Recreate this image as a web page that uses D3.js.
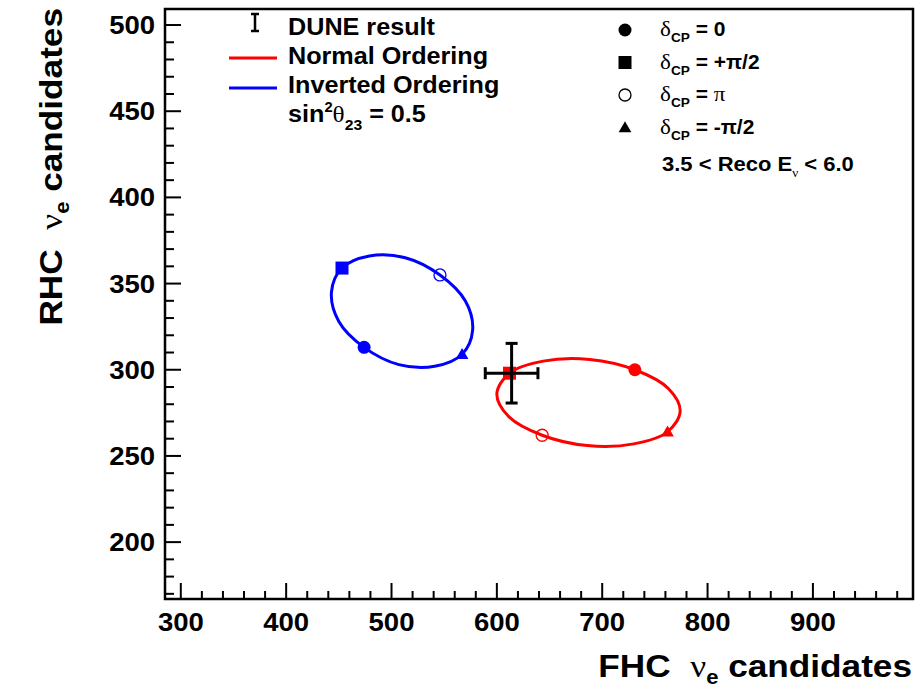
<!DOCTYPE html>
<html>
<head>
<meta charset="utf-8">
<script src="https://cdn.jsdelivr.net/npm/d3@7"></script>
<style>
  body { margin: 0; background: #fff; }
  text { font-family: 'Liberation Sans', Arial, Helvetica, sans-serif; font-weight: bold; }
  .greek { font-family: 'Liberation Serif', 'DejaVu Serif', serif; font-weight: normal; }
</style>
</head>
<body>
<svg id="chart"></svg>
<script>
const width = 922;
const height = 690;

// DUNE result, with sqrt(N) errors
const duneResult = { fhc: 614, rhc: 298, errFhc: 25, errRhc: 17.3 };

// points read around each ellipse, deltaCP stepping by 30 degrees from 0
const normalCurve = [
  [731, 300], [688, 306], [644, 305], [612, 298], [600, 286], [611, 273],
  [643, 262], [686, 256], [730, 257], [762, 264], [774, 276], [763, 289]
];
const invertedCurve = [
  [474, 313], [450, 328], [443, 345], [453, 359], [479, 366], [513, 365],
  [546, 355], [570, 340], [577, 323], [567, 309], [541, 302], [507, 303]
];

// the four marked deltaCP values on each curve
const deltaNames = ["0", "+π/2", "π", "-π/2"];
const deltaShapes = ["circle", "square", "open", "triangle"];
const normalMarks = [[731, 300], [612, 298], [643, 262], [762, 264]];
const invertedMarks = [[474, 313], [453, 359], [546, 355], [567, 309]];

const xTicks = [300, 400, 500, 600, 700, 800, 900];
const yTicks = [200, 250, 300, 350, 400, 450, 500];

const svg = d3.select('#chart')
  .attr('width', width)
  .attr('height', height);

const frame = { left: 165, top: 9, right: 913, bottom: 599 };

const x = d3.scaleLinear().domain([285, 995]).range([frame.left, frame.right]);
const y = d3.scaleLinear().domain([167, 509.3]).range([frame.bottom, frame.top]);

// minor ticks
const xMinor = d3.range(300, 995, 20);
const yMinor = d3.range(170, 510, 10);

svg.append('g')
  .selectAll('line')
  .data(xMinor)
  .enter().append('line')
    .attr('x1', d => x(d)).attr('x2', d => x(d))
    .attr('y1', frame.bottom)
    .attr('y2', d => frame.bottom - (d % 100 === 0 ? 16 : 8))
    .attr('stroke', '#000').attr('stroke-width', 2);

svg.append('g')
  .selectAll('line')
  .data(yMinor)
  .enter().append('line')
    .attr('y1', d => y(d)).attr('y2', d => y(d))
    .attr('x1', frame.left)
    .attr('x2', d => frame.left + (d % 50 === 0 ? 16 : 9))
    .attr('stroke', '#000').attr('stroke-width', 2);

// tick labels, slightly stretched like the ROOT rendering
svg.append('g')
  .selectAll('text')
  .data(xTicks)
  .enter().append('text')
    .attr('transform', d => `translate(${x(d)},631) scale(1.1,1)`)
    .attr('text-anchor', 'middle')
    .attr('font-size', 25)
    .text(d => d);

svg.append('g')
  .selectAll('text')
  .data(yTicks)
  .enter().append('text')
    .attr('transform', d => `translate(155,${y(d)}) scale(1.1,1)`)
    .attr('dy', '0.36em')
    .attr('text-anchor', 'end')
    .attr('font-size', 25)
    .text(d => d);

svg.append('rect')
  .attr('x', frame.left).attr('y', frame.top)
  .attr('width', frame.right - frame.left)
  .attr('height', frame.bottom - frame.top)
  .attr('fill', 'none')
  .attr('stroke', '#000')
  .attr('stroke-width', 2.5);

// axis titles
function axisTitle(g, main) {
  const t = g.append('text')
    .attr('text-anchor', 'end')
    .attr('font-size', 32);
  t.append('tspan').text(main + '\u00a0\u00a0');
  t.append('tspan').attr('class', 'greek').text('ν');
  t.append('tspan').attr('font-size', 20).attr('dy', 7).text('e');
  t.append('tspan').attr('dy', -7).text(' candidates');
}
axisTitle(svg.append('g').attr('transform', 'translate(912,677) scale(1.1,1)'), 'FHC');
axisTitle(svg.append('g').attr('transform', 'translate(62,8) rotate(-90) scale(1.1,1)'), 'RHC');

// ellipses
const line = d3.line()
  .x(d => x(d[0]))
  .y(d => y(d[1]))
  .curve(d3.curveCatmullRomClosed);

svg.append('path')
  .datum(invertedCurve)
  .attr('d', line)
  .attr('fill', 'none')
  .attr('stroke', '#0000ff')
  .attr('stroke-width', 3);

svg.append('path')
  .datum(normalCurve)
  .attr('d', line)
  .attr('fill', 'none')
  .attr('stroke', '#ff0000')
  .attr('stroke-width', 3);

function drawMarker(g, shape, cx, cy, color) {
  if (shape === 'circle') {
    g.append('circle').attr('cx', cx).attr('cy', cy).attr('r', 6.5).attr('fill', color);
  } else if (shape === 'square') {
    g.append('rect').attr('x', cx - 6.5).attr('y', cy - 6.5)
      .attr('width', 13).attr('height', 13).attr('fill', color);
  } else if (shape === 'open') {
    g.append('circle').attr('cx', cx).attr('cy', cy).attr('r', 6)
      .attr('fill', 'none').attr('stroke', color).attr('stroke-width', 1.3);
  } else {
    g.append('path')
      .attr('d', d3.symbol(d3.symbolTriangle, 70)())
      .attr('transform', `translate(${cx},${cy + 1})`)
      .attr('fill', color);
  }
}

const marks = svg.append('g');
invertedMarks.forEach((p, i) => drawMarker(marks, deltaShapes[i], x(p[0]), y(p[1]), '#0000ff'));
normalMarks.forEach((p, i) => drawMarker(marks, deltaShapes[i], x(p[0]), y(p[1]), '#ff0000'));

// DUNE result cross
const cross = svg.append('g').attr('stroke', '#000').attr('stroke-width', 3);
const cx = x(duneResult.fhc), cy = y(duneResult.rhc);
const xl = x(duneResult.fhc - duneResult.errFhc), xr = x(duneResult.fhc + duneResult.errFhc);
const yt = y(duneResult.rhc + duneResult.errRhc), yb = y(duneResult.rhc - duneResult.errRhc);
cross.append('line').attr('x1', xl).attr('x2', xr).attr('y1', cy).attr('y2', cy);
cross.append('line').attr('x1', cx).attr('x2', cx).attr('y1', yt).attr('y2', yb);
cross.append('line').attr('x1', xl).attr('x2', xl).attr('y1', cy - 6).attr('y2', cy + 6);
cross.append('line').attr('x1', xr).attr('x2', xr).attr('y1', cy - 6).attr('y2', cy + 6);
cross.append('line').attr('x1', cx - 6).attr('x2', cx + 6).attr('y1', yt).attr('y2', yt);
cross.append('line').attr('x1', cx - 6).attr('x2', cx + 6).attr('y1', yb).attr('y2', yb);

// left legend
const leg = svg.append('g');
const ebar = leg.append('g').attr('stroke', '#000').attr('stroke-width', 2.5);
ebar.append('line').attr('x1', 255).attr('x2', 255).attr('y1', 14).attr('y2', 31);
ebar.append('line').attr('x1', 251).attr('x2', 259).attr('y1', 14).attr('y2', 14);
ebar.append('line').attr('x1', 251).attr('x2', 259).attr('y1', 31).attr('y2', 31);
leg.append('line').attr('x1', 229).attr('x2', 277).attr('y1', 58).attr('y2', 58)
  .attr('stroke', '#ff0000').attr('stroke-width', 3);
leg.append('line').attr('x1', 229).attr('x2', 277).attr('y1', 88).attr('y2', 88)
  .attr('stroke', '#0000ff').attr('stroke-width', 3);

const legLabels = ['DUNE result', 'Normal Ordering', 'Inverted Ordering'];
leg.selectAll('text.lab')
  .data(legLabels)
  .enter().append('text')
    .attr('class', 'lab')
    .attr('transform', (d, i) => `translate(288,${35 + i * 29}) scale(1.05,1)`)
    .attr('font-size', 24)
    .text(d => d);

const sinText = leg.append('text')
  .attr('transform', 'translate(288,122) scale(1.05,1)')
  .attr('font-size', 24);
sinText.append('tspan').text('sin');
sinText.append('tspan').attr('font-size', 14).attr('dy', -10).text('2');
sinText.append('tspan').attr('class', 'greek').attr('dy', 10).text('θ');
sinText.append('tspan').attr('font-size', 15).attr('dy', 8).text('23');
sinText.append('tspan').attr('dy', -8).text(' = 0.5');

// right legend
const leg2 = svg.append('g');
deltaNames.forEach((name, i) => {
  const ry = 30 + i * 32.5;
  drawMarker(leg2, deltaShapes[i], 625, ry, '#000');
  const t = leg2.append('text')
    .attr('transform', `translate(660,${ry + 6}) scale(1.05,1)`)
    .attr('font-size', 20);
  t.append('tspan').attr('class', 'greek').attr('font-size', 22).text('δ');
  t.append('tspan').attr('font-size', 13).attr('dy', 6).text('CP');
  const val = name === 'π' ? ' = ' : ' = ' + name;
  t.append('tspan').attr('dy', -6).text(val);
  if (name === 'π') t.append('tspan').attr('class', 'greek').attr('font-size', 22).text(' π');
});

const eText = leg2.append('text')
  .attr('transform', 'translate(662,171) scale(1.1,1)')
  .attr('font-size', 20);
eText.append('tspan').text('3.5 < Reco E');
eText.append('tspan').attr('class', 'greek').attr('font-size', 12).attr('dy', 6).text('ν');
eText.append('tspan').attr('dy', -6).text(' < 6.0');
</script>
</body>
</html>
